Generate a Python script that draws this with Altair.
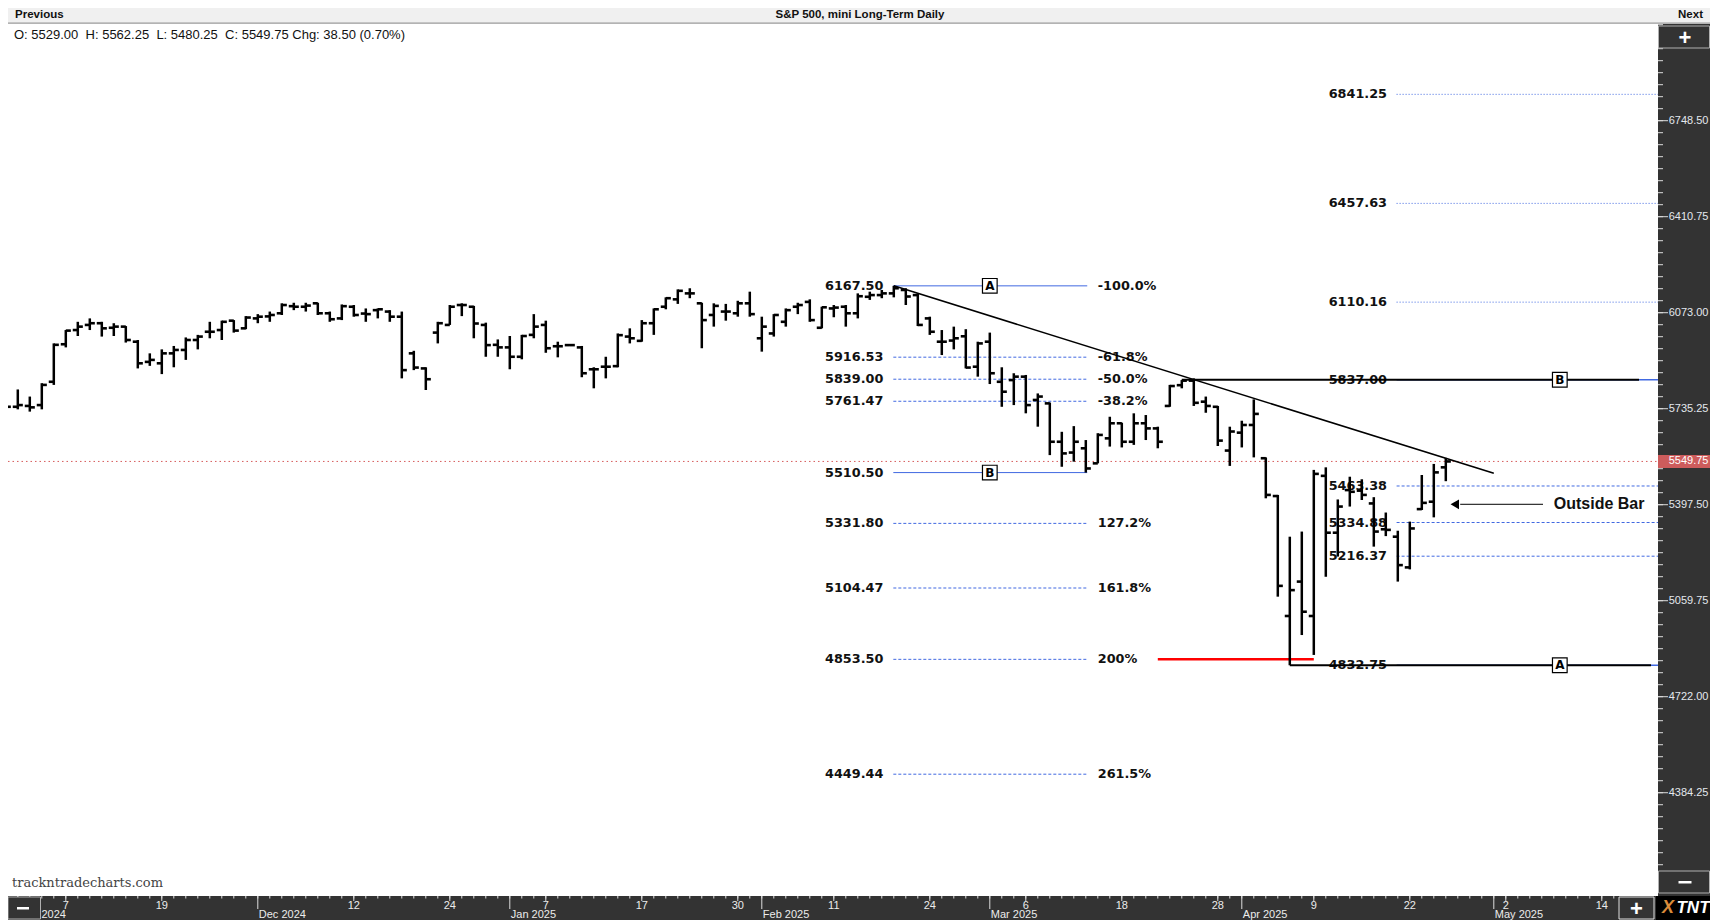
import altair as alt
import pandas as pd

# ---------------- data (daily OHLC, index 0 = 31 Oct 2024 ... 120 = 25 Apr 2025) ----------------
opens = [5836, 5742, 5745, 5748, 5830, 5962, 6012, 6030, 6036, 6020,
         6024, 5971, 5900, 5895, 5930, 5942, 5977, 6006, 6012, 6045,
         6018, 6053, 6060, 6071, 6096, 6094, 6106, 6071, 6053, 6094,
         6070, 6082, 6077, 6059, 5930, 5877, 6003, 6030, 6100, 6094,
         6030, 5960, 5951, 5918, 5995, 6030, 5955, 5959, 5951, 5874,
         5883, 5885, 5989, 5974, 6036, 6094, 6120, 6141, 6106, 6065,
         6077, 6071, 6106, 5983, 6000, 6041, 6094, 6111, 6020, 6088,
         6094, 6071, 6129, 6135, 6141, 6153, 6135, 6053, 5971, 5975,
         5990, 5883, 5971, 5830, 5836, 5848, 5766, 5754, 5619, 5581,
         5596, 5543, 5631, 5684, 5619, 5684, 5666, 5745, 5818, 5834,
         5760, 5742, 5588, 5651, 5678, 5561, 5428, 5006, 5127, 5006,
         5499, 5299, 5449, 5447, 5402, 5311, 5285, 5177, 5382, 5408,
         5529.00]
highs = [5842, 5803, 5778, 5825, 5965, 6012, 6041, 6053, 6041, 6036,
         6026, 5977, 5930, 5944, 5956, 5986, 5995, 6041, 6045, 6047,
         6061, 6068, 6077, 6106, 6108, 6108, 6108, 6077, 6102, 6100,
         6088, 6088, 6082, 6077, 5939, 5881, 6041, 6100, 6106, 6097,
         6038, 5979, 5991, 5995, 6068, 6045, 5971, 5963, 5956, 5881,
         5918, 6000, 6018, 6047, 6088, 6127, 6155, 6159, 6108, 6106,
         6104, 6115, 6147, 6059, 6068, 6088, 6108, 6120, 6094, 6100,
         6100, 6141, 6147, 6153, 6167.5, 6159, 6141, 6059, 6012, 6024,
         6015, 5971, 6003, 5881, 5860, 5854, 5789, 5757, 5654, 5674,
         5625, 5649, 5707, 5686, 5719, 5713, 5672, 5819, 5836, 5842,
         5778, 5745, 5672, 5693, 5768, 5564, 5432, 5285, 5303, 5520,
         5529, 5416, 5496, 5487, 5424, 5370, 5306, 5338, 5502, 5541,
         5562.25]
lows = [5737, 5733, 5725, 5733, 5819, 5951, 5991, 6012, 5989, 5991,
        5968, 5877, 5886, 5857, 5881, 5907, 5944, 5983, 5977, 6003,
        6015, 6036, 6041, 6065, 6082, 6077, 6065, 6041, 6047, 6059,
        6041, 6053, 6041, 5842, 5871, 5801, 5965, 6030, 6061, 5983,
        5918, 5918, 5874, 5909, 5983, 5932, 5916, 5956, 5846, 5807,
        5842, 5881, 5965, 5971, 5995, 6085, 6104, 6124, 5948, 6024,
        6045, 6059, 6059, 5936, 5989, 6024, 6068, 6041, 6018, 6057,
        6024, 6053, 6118, 6124, 6127, 6100, 6026, 5995, 5924, 5944,
        5877, 5848, 5822, 5742, 5748, 5719, 5672, 5572, 5531, 5549,
        5510.5, 5543, 5602, 5599, 5608, 5625, 5596, 5742, 5807, 5745,
        5721, 5604, 5534, 5599, 5564, 5420, 5074, 4832.75, 4939, 4869,
        5144, 5215, 5391, 5414, 5250, 5287, 5127, 5170, 5379, 5353,
        5480.25]
closes = [5742, 5748, 5740, 5819, 5960, 6010, 6024, 6036, 6018, 6024,
          5977, 5895, 5907, 5930, 5942, 5977, 5989, 6006, 6041, 6010,
          6056, 6059, 6065, 6100, 6094, 6098, 6071, 6050, 6096, 6065,
          6068, 6085, 6059, 5871, 5880, 5839, 6036, 6094, 6100, 6035,
          5959, 5951, 5918, 5991, 6024, 5948, 5955, 5959, 5860, 5874,
          5883, 5994, 5983, 6036, 6085, 6124, 6150, 6141, 6047, 6097,
          6077, 6106, 6068, 6024, 6065, 6082, 6100, 6047, 6092, 6091,
          6071, 6131, 6135, 6141, 6159, 6130, 6030, 6006, 5971, 5983,
          5880, 5965, 5860, 5795, 5848, 5748, 5778, 5619, 5578, 5619,
          5525, 5643, 5684, 5619, 5684, 5666, 5619, 5815, 5834, 5756,
          5745, 5623, 5655, 5678, 5717, 5432, 5112, 5097, 5021, 5506,
          5299, 5391, 5443, 5432, 5303, 5309, 5185, 5314, 5404, 5511.25,
          5549.75]

# retracement / extension study (A = 19 Feb high, B = 13 Mar low)
fib_levels = [6167.50, 5916.53, 5839.00, 5761.47, 5510.50, 5331.80, 5104.47, 4853.50, 4449.44]
fib_pcts = ["-100.0%", "-61.8%", "-50.0%", "-38.2%", "", "127.2%", "161.8%", "200%", "261.5%"]
fib_solid = [1, 0, 0, 0, 1, 0, 0, 0, 0]

# projection study (A = 7 Apr low, B = 26 Mar high)
proj_levels = [6841.25, 6457.63, 6110.16, 5837.00, 5463.38, 5334.88, 5216.37, 4832.75]
proj_style = ["dot", "dot", "dot", "solid", "dash", "dash", "dash", "solid"]

# trend line (from 19 Feb high)
trend_i = [74, 124]
trend_p = [6167.5, 5508.0]

last_close = 5549.75
NB = "\u00a0"
ohlc_text = ("O: 5529.00" + NB * 2 + "H: 5562.25" + NB * 2 + "L: 5480.25" + NB * 2 +
             "C: 5549.75 Chg: 38.50 (0.70%)")

# axes
y_major = [6748.50, 6410.75, 6073.00, 5735.25, 5397.50, 5059.75, 4722.00, 4384.25]
day_idx = [5, 13, 29, 37, 45, 53, 61, 69, 77, 85, 93, 101, 109, 117, 125, 133]
day_txt = ["7", "19", "12", "24", "7", "17", "30", "11", "24", "6", "18", "28", "9", "22", "2", "14"]
month_idx = [1, 21, 42, 63, 82, 103, 124]
month_txt = ["Nov 2024", "Dec 2024", "Jan 2025", "Feb 2025", "Mar 2025", "Apr 2025", "May 2025"]

# ---------------- chart ----------------
W, H = 1650, 872
RW = 52           # right price panel width
XD = [0.18333, 137.68333]
YD = [4020.9, 7088.7]
xs = alt.Scale(domain=XD, nice=False, zero=False)
ys = alt.Scale(domain=YD, nice=False, zero=False)

SANS = "Liberation Sans"
FIBF = "DejaVu Sans"
BLUE = "#4169e1"
FS = 12.8
R = W + RW


def X(f):
    return alt.X(f, type="quantitative", scale=xs, axis=None)


def Y(f):
    return alt.Y(f, type="quantitative", scale=ys, axis=None)


def one():
    return alt.Chart(pd.DataFrame({"k": [0]}))


def rect(x1, x2, y1, y2, fill, stroke=None, sw=1):
    kw = dict(fill=fill)
    if stroke:
        kw.update(stroke=stroke, strokeWidth=sw)
    return one().mark_rect(**kw).encode(x=alt.value(x1), x2=alt.value(x2),
                                        y=alt.value(y1), y2=alt.value(y2))


def vtext(txt, x, y, **kw):
    return one().mark_text(text=txt, **kw).encode(x=alt.value(x), y=alt.value(y))


layers = []

# panels
layers.append(rect(0, R, -16, -1, "#f0f0f0"))
layers.append(rect(0, R, -1.5, -0.3, "#9a9a9a"))
layers.append(rect(W, R, 0, 872, "#333333"))
layers.append(rect(0, W - 2, 872, 896, "#333333"))

# close dotted line
close_df = pd.DataFrame({"x1": [XD[0]], "x2": [XD[1]], "p": [last_close]})
layers.append(alt.Chart(close_df).mark_rule(color="#d65a5a", strokeWidth=1, strokeDash=[1.5, 3]).encode(
    x=X("x1"), x2="x2:Q", y=Y("p")))

# left fib study
fib_df = pd.DataFrame({
    "p": fib_levels,
    "txt": [f"{v:.2f}" for v in fib_levels],
    "pct": fib_pcts,
    "solid": fib_solid,
    "x1": [73.96] * len(fib_levels),
    "x2": [90.12] * len(fib_levels),
    "xl": [68.27] * len(fib_levels),
    "xp": [91.0] * len(fib_levels),
})
fb = alt.Chart(fib_df)
layers.append(fb.transform_filter("datum.solid == 1").mark_rule(color=BLUE, strokeWidth=1).encode(
    x=X("x1"), x2="x2:Q", y=Y("p")))
layers.append(fb.transform_filter("datum.solid == 0").mark_rule(color=BLUE, strokeWidth=1, strokeDash=[3, 2]).encode(
    x=X("x1"), x2="x2:Q", y=Y("p")))
layers.append(fb.mark_text(font=FIBF, fontSize=FS, fontWeight="bold", color="#111111", align="left",
                           baseline="middle").encode(x=X("xl"), y=Y("p"), text="txt:N"))
layers.append(fb.mark_text(font=FIBF, fontSize=FS, fontWeight="bold", color="#111111", align="left",
                           baseline="middle").encode(x=X("xp"), y=Y("p"), text="pct:N"))

# red 200% line
red_df = pd.DataFrame({"x1": [96], "x2": [109], "p": [4853.5]})
layers.append(alt.Chart(red_df).mark_rule(color="#ff0000", strokeWidth=2.5).encode(
    x=X("x1"), x2="x2:Q", y=Y("p")))

# right projection study
proj_df = pd.DataFrame({
    "p": proj_levels,
    "txt": [f"{v:.2f}" for v in proj_levels],
    "style": proj_style,
    "x1": [115.9] * len(proj_levels),
    "x2": [XD[1]] * len(proj_levels),
    "xl": [110.24] * len(proj_levels),
})
pb = alt.Chart(proj_df)
layers.append(pb.transform_filter("datum.style == 'solid'").mark_rule(color=BLUE, strokeWidth=1.5).encode(
    x=X("x1"), x2="x2:Q", y=Y("p")))
layers.append(pb.transform_filter("datum.style == 'dash'").mark_rule(color=BLUE, strokeWidth=1, strokeDash=[3, 2]).encode(
    x=X("x1"), x2="x2:Q", y=Y("p")))
layers.append(pb.transform_filter("datum.style == 'dot'").mark_rule(color=BLUE, strokeWidth=1, strokeDash=[1, 2]).encode(
    x=X("x1"), x2="x2:Q", y=Y("p")))
layers.append(pb.mark_text(font=FIBF, fontSize=FS, fontWeight="bold", color="#111111", align="left",
                           baseline="middle").encode(x=X("xl"), y=Y("p"), text="txt:N"))

# black horizontal lines (B high and A low)
hl_df = pd.DataFrame({"x1": [98, 107], "x2": [136.1, 137.1], "p": [5837.0, 4832.75]})
layers.append(alt.Chart(hl_df).mark_rule(color="black", strokeWidth=2).encode(
    x=X("x1"), x2="x2:Q", y=Y("p")))

# trend line
tr_df = pd.DataFrame({"i": trend_i, "p": trend_p})
layers.append(alt.Chart(tr_df).mark_line(color="black", strokeWidth=1.6).encode(x=X("i"), y=Y("p")))

# OHLC bars
bars = pd.DataFrame({"i": list(range(len(opens))), "o": opens, "h": highs, "l": lows, "c": closes})
bb = alt.Chart(bars)
layers.append(bb.mark_rule(color="black", strokeWidth=2.5).encode(x=X("i"), y=Y("l"), y2="h:Q"))
layers.append(bb.transform_calculate(xl="datum.i - 0.42").mark_rule(color="black", strokeWidth=2.6, strokeCap="butt").encode(
    x=X("xl"), x2="i:Q", y=Y("o")))
layers.append(bb.transform_calculate(xr="datum.i + 0.42").mark_rule(color="black", strokeWidth=2.6, strokeCap="butt").encode(
    x=X("i"), x2="xr:Q", y=Y("c")))

# A / B boxes
box_df = pd.DataFrame({"i": [82, 82, 129.5, 129.5], "p": [6167.5, 5510.5, 5837.0, 4832.75],
                       "t": ["A", "B", "B", "A"]})
layers.append(alt.Chart(box_df).mark_square(size=215, fill="white", stroke="black", strokeWidth=1.2,
                                            filled=True, opacity=1).encode(x=X("i"), y=Y("p")))
layers.append(alt.Chart(box_df).mark_text(font=FIBF, fontSize=12, fontWeight="bold", color="black",
                                          baseline="middle").encode(x=X("i"), y=Y("p"), text="t:N"))

# Outside Bar annotation
arr_df = pd.DataFrame({"x1": [121.2], "x2": [128.1], "p": [5399.0], "xh": [120.75], "xt": [129.0],
                       "t": ["Outside Bar"]})
ab = alt.Chart(arr_df)
layers.append(ab.mark_rule(color="black", strokeWidth=1).encode(x=X("x1"), x2="x2:Q", y=Y("p")))
layers.append(ab.mark_point(shape="triangle-left", size=95, filled=True, color="black", opacity=1).encode(
    x=X("xh"), y=Y("p")))
layers.append(ab.mark_text(font=SANS, fontSize=16, fontWeight="bold", color="#111111", align="left",
                           baseline="middle").encode(x=X("xt"), y=Y("p"), text="t:N"))

# right price axis
minor = [4384.25 + k * 42.21875 for k in range(-8, 66)]
minor = [v for v in minor if YD[0] < v < YD[1]]
layers.append(alt.Chart(pd.DataFrame({"p": minor})).mark_rule(color="#dddddd", strokeWidth=1).encode(
    x=alt.value(W), x2=alt.value(W + 5), y=Y("p")))
ymaj_df = pd.DataFrame({"p": y_major, "t": [f"{v:.2f}" for v in y_major]})
layers.append(alt.Chart(ymaj_df).mark_rule(color="#dddddd", strokeWidth=1).encode(
    x=alt.value(W), x2=alt.value(W + 10), y=Y("p")))
layers.append(alt.Chart(ymaj_df).mark_text(font=SANS, fontSize=11, color="#e4e8ee", align="left",
                                           baseline="middle").encode(x=alt.value(W + 10.7), y=Y("p"), text="t:N"))
lc_df = pd.DataFrame({"p": [last_close], "t": [f"{last_close:.2f}"]})
layers.append(alt.Chart(lc_df).mark_rule(color="#cd5c5c", strokeWidth=13, strokeCap="butt").encode(
    x=alt.value(W), x2=alt.value(R), y=Y("p")))
layers.append(alt.Chart(lc_df).mark_text(font=SANS, fontSize=11, color="white", align="left",
                                         baseline="middle").encode(x=alt.value(W + 10.7), y=Y("p"), text="t:N"))

# bottom date axis
tick_df = pd.DataFrame({"i": list(range(0, 135))})
layers.append(alt.Chart(tick_df).mark_rule(color="#dddddd", strokeWidth=1).encode(
    x=X("i"), y=alt.value(872), y2=alt.value(874.5)))
day_df = pd.DataFrame({"i": day_idx, "t": day_txt})
layers.append(alt.Chart(day_df).mark_rule(color="#dddddd", strokeWidth=1).encode(
    x=X("i"), y=alt.value(872), y2=alt.value(877)))
layers.append(alt.Chart(day_df).mark_text(font=SANS, fontSize=11, color="#ececec", baseline="middle").encode(
    x=X("i"), y=alt.value(882), text="t:N"))
mon_df = pd.DataFrame({"i": month_idx, "t": month_txt})
layers.append(alt.Chart(mon_df).mark_rule(color="#dddddd", strokeWidth=1).encode(
    x=X("i"), y=alt.value(872), y2=alt.value(885)))
layers.append(alt.Chart(mon_df).mark_text(font=SANS, fontSize=11, color="#ececec", align="left", dx=1,
                                          baseline="middle").encode(x=X("i"), y=alt.value(891), text="t:N"))

# texts
layers.append(vtext(ohlc_text, 6, 11, font=SANS, fontSize=13, color="#111111", align="left", baseline="middle"))
layers.append(vtext("Previous", 7, -9.3, font=SANS, fontSize=11.5, fontWeight="bold", color="#111111",
                    align="left", baseline="middle"))
layers.append(vtext("S&P 500, mini Long-Term Daily", 852, -9.3, font=SANS, fontSize=11.5, fontWeight="bold",
                    color="#111111", align="center", baseline="middle"))
layers.append(vtext("Next", 1695, -9.3, font=SANS, fontSize=11.5, fontWeight="bold", color="#111111",
                    align="right", baseline="middle"))
layers.append(vtext("trackntradecharts.com", 4, 859, font="DejaVu Serif", fontSize=13, color="#444444",
                    align="left", baseline="middle"))

# buttons
layers.append(rect(W + 0.5, R - 0.5, 2, 24, "#333333", "#b0b0b0", 1))
layers.append(vtext("+", W + 27, 14, font=SANS, fontSize=22, fontWeight="bold", color="white",
                    align="center", baseline="middle"))
layers.append(rect(W + 0.5, R - 0.5, 847, 869, "#333333", "#b0b0b0", 1))
layers.append(rect(W + 20.5, W + 33.5, 857, 859.5, "white"))
layers.append(rect(0, 32.5, 873, 895, "#333333", "#b0b0b0", 1))
layers.append(rect(9, 21, 883, 885.5, "white"))
layers.append(rect(1611, 1646, 873, 895, "#333333", "#e0e0e0", 1))
layers.append(vtext("+", 1628.5, 885, font=SANS, fontSize=22, fontWeight="bold", color="white",
                    align="center", baseline="middle"))
layers.append(rect(W - 2, R, 872, 896, "#000000"))
layers.append(vtext("X", W + 10, 884, font=SANS, fontSize=18, fontWeight="bold", fontStyle="italic",
                    color="#d98b3a", align="center", baseline="middle"))
layers.append(vtext("TNT", W + 35, 884, font=SANS, fontSize=17, fontWeight="bold", fontStyle="italic",
                    color="white", align="center", baseline="middle"))

chart = alt.layer(*layers).properties(
    width=W, height=H,
    padding={"left": 0, "top": 16, "right": RW, "bottom": 24},
    autosize=alt.AutoSizeParams(type="none"),
    background="white",
).configure_view(stroke=None)

chart.save("out.html", embed_options={"renderer": "svg", "actions": False})
